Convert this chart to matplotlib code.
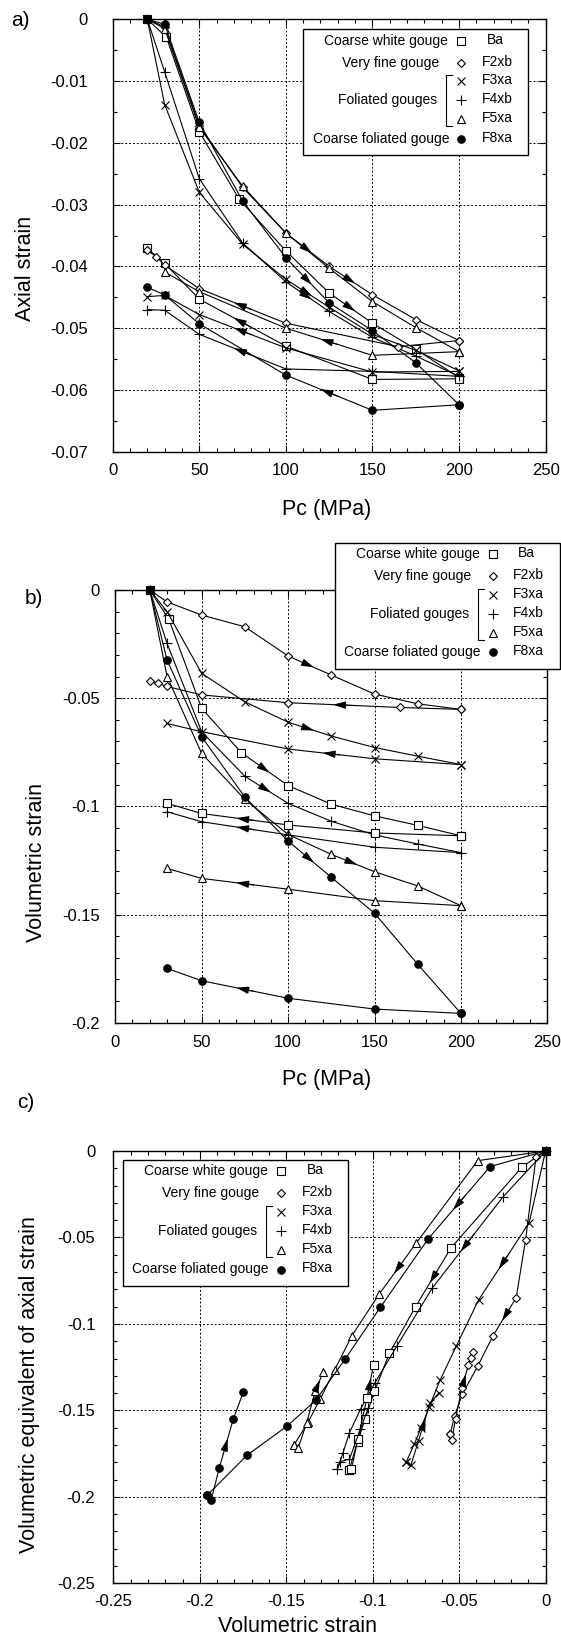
import matplotlib
matplotlib.use("Agg")
import matplotlib.pyplot as plt
from matplotlib.ticker import MultipleLocator, AutoMinorLocator, FuncFormatter
from matplotlib.patches import Rectangle
from matplotlib.lines import Line2D

plt.rcParams['font.family'] = ['Liberation Sans', 'DejaVu Sans']
plt.rcParams['axes.unicode_minus'] = False

# ---------------- data ----------------
SAMPLES = ['Ba', 'F2xb', 'F3xa', 'F4xb', 'F5xa', 'F8xa']
GROUP_LABELS = ['Coarse white gouge', 'Very fine gouge', 'Foliated gouges', 'Coarse foliated gouge']

PC_LOAD = [20, 30, 50, 75, 100, 125, 150, 175, 200]
PC_LOAD_BA = [20, 31, 50, 73, 100, 125, 150, 175, 200]

# panel a: axial strain, loading
BA_AX_LOAD = [0, -0.0029, -0.0182, -0.0291, -0.0375, -0.0443, -0.0492, -0.0534, -0.0580]
F2_AX_LOAD = [0, -0.0012, -0.0172, -0.0272, -0.0346, -0.0400, -0.0446, -0.0486, -0.0520]
F3_AX_LOAD = [0, -0.0138, -0.0280, -0.0364, -0.0421, -0.0466, -0.0510, -0.0536, -0.0569]
F4_AX_LOAD = [0, -0.0085, -0.0258, -0.0362, -0.0425, -0.0473, -0.0515, -0.0545, -0.0578]
F5_AX_LOAD = [0, -0.0015, -0.0175, -0.0270, -0.0346, -0.0403, -0.0457, -0.0499, -0.0538]
F8_AX_LOAD = [0, -0.0008, -0.0167, -0.0294, -0.0386, -0.0459, -0.0504, -0.0556, -0.0624]
# panel a: unloading
PC_UNL_A_BA = [200, 150, 100, 50, 30, 20]
PC_UNL_A_F2 = [200, 165, 100, 50, 30, 25, 20]
PC_UNL_A_F3 = [200, 150, 100, 50, 30, 20]
PC_UNL_A_F4 = [200, 150, 100, 50, 30, 20]
PC_UNL_A_F5 = [200, 150, 100, 50, 30]
PC_UNL_A_F8 = [200, 150, 100, 50, 30, 20]
BA_AX_UNL = [-0.0582, -0.0583, -0.0529, -0.0453, -0.0395, -0.0371]
F2_AX_UNL = [-0.0520, -0.0530, -0.0492, -0.0436, -0.0398, -0.0384, -0.0374]
F3_AX_UNL = [-0.0570, -0.0571, -0.0532, -0.0478, -0.0447, -0.0449]
F4_AX_UNL = [-0.0578, -0.0570, -0.0566, -0.0510, -0.0471, -0.0470]
F5_AX_UNL = [-0.0538, -0.0544, -0.0500, -0.0441, -0.0409]
F8_AX_UNL = [-0.0624, -0.0633, -0.0576, -0.0493, -0.0446, -0.0434]

# panel b: volumetric strain, loading
BA_VOL_LOAD = [0, -0.0135, -0.0547, -0.0752, -0.0904, -0.0990, -0.1044, -0.1088, -0.1136]
F2_VOL_LOAD = [0, -0.0055, -0.0116, -0.0170, -0.0305, -0.0393, -0.0481, -0.0526, -0.0552]
F3_VOL_LOAD = [0, -0.0100, -0.0385, -0.0517, -0.0611, -0.0675, -0.0728, -0.0768, -0.0807]
F4_VOL_LOAD = [0, -0.0247, -0.0655, -0.0861, -0.0986, -0.1069, -0.1132, -0.1174, -0.1214]
F5_VOL_LOAD = [0, -0.0400, -0.0755, -0.0968, -0.1130, -0.1222, -0.1302, -0.1368, -0.1459]
F8_VOL_LOAD = [0, -0.0324, -0.0678, -0.0957, -0.1160, -0.1328, -0.1494, -0.1730, -0.1957]
# panel b: unloading
PC_UNL_B_BA = [200, 150, 100, 50, 30]
PC_UNL_B_F2 = [200, 165, 100, 50, 30, 25, 20]
PC_UNL_B_F3 = [200, 150, 100, 50, 30]
PC_UNL_B_F4 = [200, 150, 100, 50, 30]
PC_UNL_B_F5 = [200, 150, 100, 50, 30]
PC_UNL_B_F8 = [200, 150, 100, 50, 30]
BA_VOL_UNL = [-0.1136, -0.1123, -0.1086, -0.1033, -0.0986]
F2_VOL_UNL = [-0.0552, -0.0543, -0.0521, -0.0485, -0.0446, -0.0432, -0.0420]
F3_VOL_UNL = [-0.0807, -0.0780, -0.0735, -0.0655, -0.0617]
F4_VOL_UNL = [-0.1214, -0.1189, -0.1132, -0.1071, -0.1025]
F5_VOL_UNL = [-0.1459, -0.1436, -0.1383, -0.1333, -0.1287]
F8_VOL_UNL = [-0.1957, -0.1937, -0.1887, -0.1806, -0.1749]

# panel c: volumetric strain (x) vs volumetric equivalent of axial strain (y)
BA_C_LOAD_X = [0, -0.0135, -0.0547, -0.0752, -0.0904, -0.0990, -0.1044, -0.1088, -0.1136]
BA_C_LOAD_Y = [0, -0.0091, -0.0560, -0.0900, -0.1170, -0.1390, -0.1550, -0.1680, -0.1845]
BA_C_UNL_X = [-0.1136, -0.1123, -0.1086, -0.1033, -0.0995]
BA_C_UNL_Y = [-0.1845, -0.1840, -0.1666, -0.1427, -0.1235]
F2_C_LOAD_X = [0, -0.0055, -0.0116, -0.0170, -0.0305, -0.0393, -0.0481, -0.0526, -0.0552]
F2_C_LOAD_Y = [0, -0.0032, -0.0515, -0.0848, -0.1070, -0.1245, -0.1405, -0.1531, -0.1638]
F2_C_UNL_X = [-0.0552, -0.0543, -0.0521, -0.0485, -0.0446, -0.0432, -0.0422]
F2_C_UNL_Y = [-0.1638, -0.1672, -0.1550, -0.1373, -0.1235, -0.1198, -0.1160]
F3_C_LOAD_X = [0, -0.0095, -0.0388, -0.0517, -0.0611, -0.0673, -0.0720, -0.0760, -0.0807]
F3_C_LOAD_Y = [0, -0.0414, -0.0862, -0.1129, -0.1326, -0.1480, -0.1600, -0.1696, -0.1800]
F3_C_UNL_X = [-0.0807, -0.0780, -0.0735, -0.0668, -0.0615]
F3_C_UNL_Y = [-0.1800, -0.1818, -0.1676, -0.1456, -0.1398]
F4_C_LOAD_X = [0, -0.0247, -0.0655, -0.0861, -0.0986, -0.1069, -0.1135, -0.1173, -0.1205]
F4_C_LOAD_Y = [0, -0.0266, -0.0792, -0.1129, -0.1339, -0.1490, -0.1630, -0.1749, -0.1840]
F4_C_UNL_X = [-0.1205, -0.1189, -0.1135, -0.1071, -0.1025]
F4_C_UNL_Y = [-0.1840, -0.1796, -0.1783, -0.1607, -0.1484]
F5_C_LOAD_X = [0, -0.0393, -0.0749, -0.0962, -0.1120, -0.1220, -0.1305, -0.1375, -0.1455]
F5_C_LOAD_Y = [0, -0.0056, -0.0533, -0.0827, -0.1067, -0.1266, -0.1437, -0.1570, -0.1700]
F5_C_UNL_X = [-0.1455, -0.1432, -0.1383, -0.1333, -0.1287]
F5_C_UNL_Y = [-0.1700, -0.1720, -0.1575, -0.1390, -0.1280]
F8_C_LOAD_X = [0, -0.0321, -0.0679, -0.0956, -0.1160, -0.1329, -0.1494, -0.1728, -0.1956]
F8_C_LOAD_Y = [0, -0.0090, -0.0508, -0.0904, -0.1204, -0.1441, -0.1590, -0.1760, -0.1989]
F8_C_UNL_X = [-0.1956, -0.1935, -0.1887, -0.1807, -0.1749]
F8_C_UNL_Y = [-0.1989, -0.2020, -0.1831, -0.1552, -0.1395]

# ---------------- styling ----------------
STYLE = {
    'Ba': dict(marker='s', ms=5.2, mfc='white'),
    'F2xb': dict(marker='D', ms=3.8, mfc='white'),
    'F3xa': dict(marker='x', ms=5.8, mfc='none'),
    'F4xb': dict(marker='+', ms=6.8, mfc='none'),
    'F5xa': dict(marker='^', ms=5.4, mfc='white'),
    'F8xa': dict(marker='o', ms=5.4, mfc='k'),
}
TICK_FS = 12
LABEL_FS = 15.5
LEG_FS = 10

W, H = 561, 1638
DPI = 100
fig = plt.figure(figsize=(W / DPI, H / DPI), dpi=DPI)


def fx(px):
    return px / W


def fy(py):
    return 1 - py / H


def add_axes(left, top, right, bottom):
    return fig.add_axes([fx(left), fy(bottom), (right - left) / W, (bottom - top) / H])


def path(ax, xs, ys, name, arrows=()):
    st = STYLE[name]
    ax.plot(xs, ys, color='k', lw=0.8, marker=st['marker'], ms=st['ms'],
            mfc=st['mfc'], mec='k', mew=0.8, clip_on=False, zorder=3)
    for i in arrows:
        x0, y0, x1, y1 = xs[i], ys[i], xs[i + 1], ys[i + 1]
        xm, ym = x0 + 0.6 * (x1 - x0), y0 + 0.6 * (y1 - y0)
        xb, yb = x0 + 0.4 * (x1 - x0), y0 + 0.4 * (y1 - y0)
        ax.annotate('', xy=(xm, ym), xytext=(xb, yb),
                    arrowprops=dict(arrowstyle='-|>,head_length=0.75,head_width=0.22',
                                    color='k', lw=0.8, shrinkA=0, shrinkB=0,
                                    mutation_scale=10), zorder=4)


fmt = FuncFormatter(lambda v, p: '0' if abs(v) < 1e-12 else '%g' % v)


def style_axes(ax, xlim, ylim, xmaj, ymaj, xmin_n, ymin_n, ypad, xpad):
    ax.set_xlim(*xlim)
    ax.set_ylim(*ylim)
    ax.xaxis.set_major_locator(MultipleLocator(xmaj))
    ax.yaxis.set_major_locator(MultipleLocator(ymaj))
    ax.xaxis.set_minor_locator(AutoMinorLocator(xmin_n))
    ax.yaxis.set_minor_locator(AutoMinorLocator(ymin_n))
    ax.xaxis.set_major_formatter(fmt)
    ax.yaxis.set_major_formatter(fmt)
    ax.tick_params(which='both', direction='in', top=True, right=True, width=0.8)
    ax.tick_params(which='major', length=5)
    ax.tick_params(which='minor', length=3)
    ax.tick_params(axis='y', which='major', pad=ypad, labelsize=TICK_FS)
    ax.tick_params(axis='x', which='major', pad=xpad, labelsize=TICK_FS)
    ax.grid(True, which='major', color='k', lw=0.7, linestyle=(0, (2, 2)))
    ax.set_axisbelow(True)
    for s in ax.spines.values():
        s.set_linewidth(1.0)


def legend(x0, y0):
    fig.add_artist(Rectangle((fx(x0), fy(y0 + 126)), 225 / W, 126 / H,
                             transform=fig.transFigure, facecolor='white',
                             edgecolor='k', lw=1.0, zorder=10))
    rows = [(11.4, 'Ba', 144.9, 0), (33.4, 'F2xb', 136.0, 1), (51.7, 'F3xa', None, None),
            (70.7, 'F4xb', 133.8, 2), (89.7, 'F5xa', None, None), (109.5, 'F8xa', 145.6, 3)]
    for ry, name, tx, gi in rows:
        if gi is not None:
            fig.text(fx(x0 + tx), fy(y0 + ry), GROUP_LABELS[gi], ha='right', va='center',
                     fontsize=LEG_FS, zorder=11)
        st = STYLE[name]
        fig.add_artist(Line2D([fx(x0 + 158)], [fy(y0 + ry)], transform=fig.transFigure,
                              marker=st['marker'], ms=st['ms'], mfc=st['mfc'], mec='k',
                              mew=0.8, ls='none', zorder=11))
        fig.text(fx(x0 + (183 if name == 'Ba' else 178)), fy(y0 + ry - 1), name,
                 ha='left', va='center', fontsize=LEG_FS, zorder=11)
    bx = x0 + 142.6
    fig.add_artist(Line2D([fx(bx + 6), fx(bx), fx(bx), fx(bx + 6)],
                          [fy(y0 + 45.7), fy(y0 + 45.7), fy(y0 + 96.7), fy(y0 + 96.7)],
                          transform=fig.transFigure, color='k', lw=0.8, zorder=11))


# ---------------- panel a ----------------
axa = add_axes(112.7, 19.3, 545.6, 451.7)
style_axes(axa, (0, 250), (-0.07, 0), 50, 0.01, 5, 2, 18, 8)
path(axa, PC_LOAD_BA, BA_AX_LOAD, 'Ba', arrows=(5,))
path(axa, PC_LOAD, F2_AX_LOAD, 'F2xb', arrows=(4, 5))
path(axa, PC_LOAD, F3_AX_LOAD, 'F3xa', arrows=(4,))
path(axa, PC_LOAD, F4_AX_LOAD, 'F4xb', arrows=(4,))
path(axa, PC_LOAD, F5_AX_LOAD, 'F5xa')
path(axa, PC_LOAD, F8_AX_LOAD, 'F8xa', arrows=(4,))
path(axa, PC_UNL_A_BA, BA_AX_UNL, 'Ba', arrows=(2,))
path(axa, PC_UNL_A_F2, F2_AX_UNL, 'F2xb', arrows=(2,))
path(axa, PC_UNL_A_F3, F3_AX_UNL, 'F3xa', arrows=(2,))
path(axa, PC_UNL_A_F4, F4_AX_UNL, 'F4xb', arrows=(2,))
path(axa, PC_UNL_A_F5, F5_AX_UNL, 'F5xa', arrows=(1,))
path(axa, PC_UNL_A_F8, F8_AX_UNL, 'F8xa', arrows=(1,))
fig.text(fx(20), fy(20), 'a)', ha='center', va='center', fontsize=15)
fig.text(fx(26), fy(268), 'Axial strain', ha='center', va='center', rotation=90, fontsize=LABEL_FS)
fig.text(fx(327), fy(509), 'Pc (MPa)', ha='center', va='center', fontsize=LABEL_FS)
legend(303.4, 29.3)

# ---------------- panel b ----------------
axb = add_axes(115.2, 590, 547.4, 1022.7)
style_axes(axb, (0, 250), (-0.2, 0), 50, 0.05, 5, 5, 11, 9)
path(axb, PC_LOAD_BA, BA_VOL_LOAD, 'Ba', arrows=(3,))
path(axb, PC_LOAD, F2_VOL_LOAD, 'F2xb', arrows=(4,))
path(axb, PC_LOAD, F3_VOL_LOAD, 'F3xa', arrows=(4,))
path(axb, PC_LOAD, F4_VOL_LOAD, 'F4xb', arrows=(3,))
path(axb, PC_LOAD, F5_VOL_LOAD, 'F5xa', arrows=(5,))
path(axb, PC_LOAD, F8_VOL_LOAD, 'F8xa', arrows=(4,))
path(axb, PC_UNL_B_BA, BA_VOL_UNL, 'Ba', arrows=(2,))
path(axb, PC_UNL_B_F2, F2_VOL_UNL, 'F2xb', arrows=(1,))
path(axb, PC_UNL_B_F3, F3_VOL_UNL, 'F3xa', arrows=(1,))
path(axb, PC_UNL_B_F4, F4_VOL_UNL, 'F4xb', arrows=(2,))
path(axb, PC_UNL_B_F5, F5_VOL_UNL, 'F5xa', arrows=(2,))
path(axb, PC_UNL_B_F8, F8_VOL_UNL, 'F8xa', arrows=(2,))
fig.text(fx(34), fy(598), 'b)', ha='center', va='center', fontsize=15)
fig.text(fx(37), fy(863), 'Volumetric strain', ha='center', va='center', rotation=90, fontsize=LABEL_FS)
fig.text(fx(327), fy(1080), 'Pc (MPa)', ha='center', va='center', fontsize=LABEL_FS)
legend(335.2, 543)

# ---------------- panel c ----------------
axc = add_axes(113.4, 1151, 545.6, 1583.3)
style_axes(axc, (-0.25, 0), (-0.25, 0), 0.05, 0.05, 5, 5, 13, 8)
path(axc, BA_C_LOAD_X, BA_C_LOAD_Y, 'Ba', arrows=(2,))
path(axc, F2_C_LOAD_X, F2_C_LOAD_Y, 'F2xb', arrows=(3,))
path(axc, F3_C_LOAD_X, F3_C_LOAD_Y, 'F3xa', arrows=(1,))
path(axc, F4_C_LOAD_X, F4_C_LOAD_Y, 'F4xb', arrows=(1,))
path(axc, F5_C_LOAD_X, F5_C_LOAD_Y, 'F5xa', arrows=(2,))
path(axc, F8_C_LOAD_X, F8_C_LOAD_Y, 'F8xa', arrows=(1,))
path(axc, BA_C_UNL_X, BA_C_UNL_Y, 'Ba', arrows=(3,))
path(axc, F2_C_UNL_X, F2_C_UNL_Y, 'F2xb', arrows=(3,))
path(axc, F3_C_UNL_X, F3_C_UNL_Y, 'F3xa', arrows=(2,))
path(axc, F4_C_UNL_X, F4_C_UNL_Y, 'F4xb')
path(axc, F5_C_UNL_X, F5_C_UNL_Y, 'F5xa', arrows=(3,))
path(axc, F8_C_UNL_X, F8_C_UNL_Y, 'F8xa', arrows=(2,))
fig.text(fx(26), fy(1103), 'c)', ha='center', va='center', fontsize=15)
fig.text(fx(30), fy(1385), 'Volumetric equivalent of axial strain', ha='center', va='center',
         rotation=90, fontsize=LABEL_FS)
fig.text(fx(298), fy(1627), 'Volumetric strain', ha='center', va='center', fontsize=LABEL_FS)
legend(123.4, 1160)

fig.savefig('out.png', dpi=DPI)
